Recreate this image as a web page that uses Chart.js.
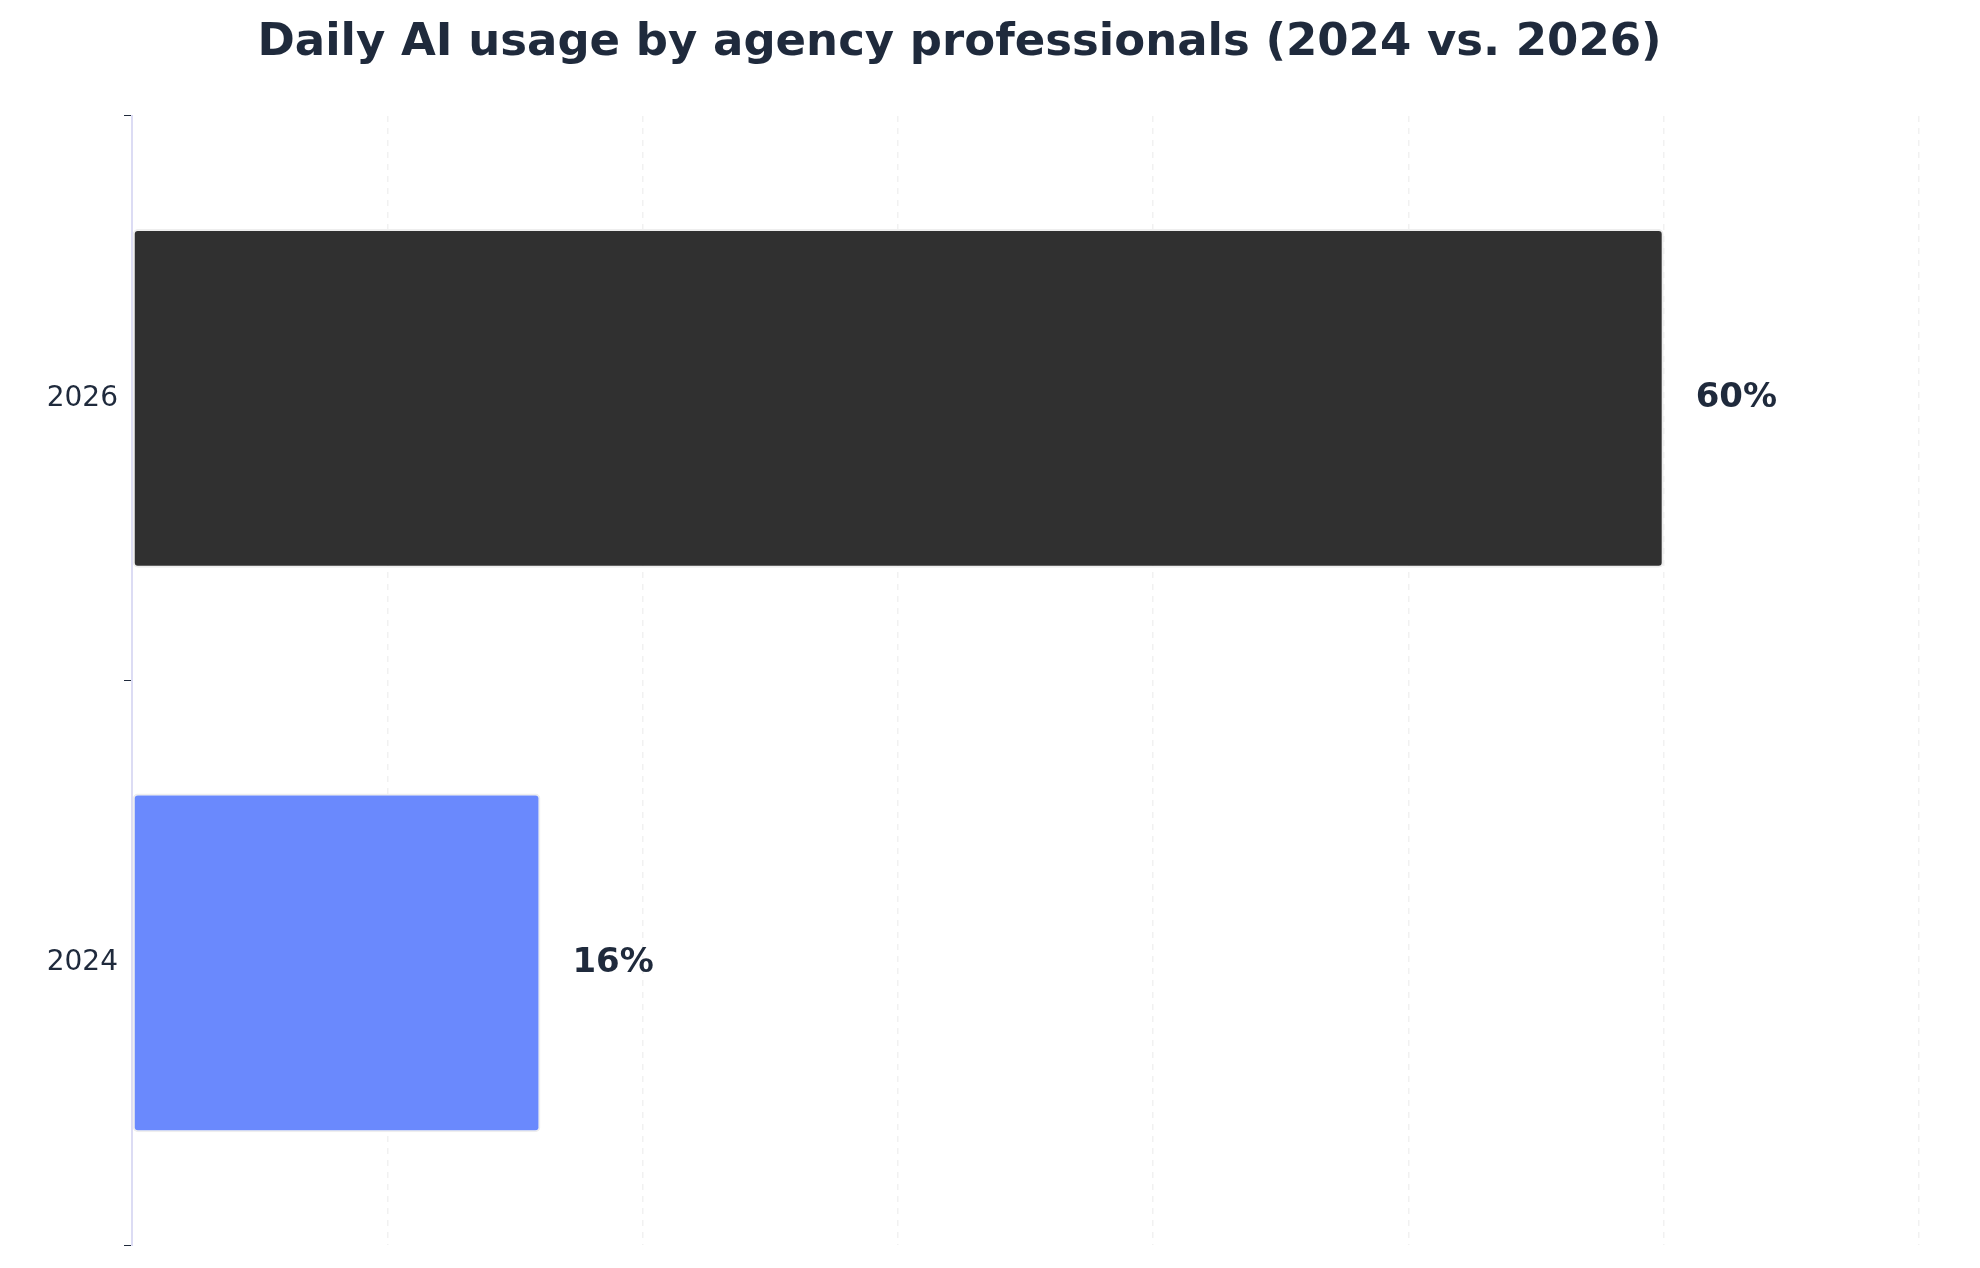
<!DOCTYPE html>
<html><head><meta charset="utf-8">
<script src="https://cdn.jsdelivr.net/npm/chart.js@4.4.1/dist/chart.umd.min.js"></script>
<style>html,body{margin:0;padding:0;background:#fff}#wrap{width:1980px;height:1268px}</style>
</head><body><div id="wrap"><canvas id="c"></canvas></div>
<script>
const categories = ['2026', '2024'];
const values = [60, 16];
const barColors = ['#303030', '#6a89fd'];
const valueLabels = ['60%', '16%'];
const titleText = 'Daily AI usage by agency professionals (2024 vs. 2026)';

const labelPlugin = {
  id: 'lbl',
  afterDatasetsDraw(chart) {
    const ctx = chart.ctx;
    const meta = chart.getDatasetMeta(0);
    ctx.save();
    ctx.font = 'bold 34px "DejaVu Sans"';
    ctx.fillStyle = '#1f2a3c';
    ctx.textBaseline = 'middle';
    meta.data.forEach((b, i) => ctx.fillText(valueLabels[i], b.x + 32, b.y));
    ctx.restore();
  }
};

new Chart(document.getElementById('c'), {
  type: 'bar',
  data: { labels: categories, datasets: [{ data: values, backgroundColor: barColors,
    borderColor: '#eeeeee', borderWidth: 2, borderRadius: 5, borderSkipped: false,
    categoryPercentage: 1, barPercentage: 0.6 }] },
  options: {
    indexAxis: 'y', responsive: true, maintainAspectRatio: false, animation: false,
    layout: { padding: { left: 0, right: 61, top: 0, bottom: 10 } },
    plugins: {
      legend: { display: false }, tooltip: { enabled: false },
      title: { display: true, text: titleText, color: '#1f2a3c',
        font: { family: 'DejaVu Sans', size: 45, weight: 'bold' }, padding: { top: 16, bottom: 46 } }
    },
    scales: {
      x: { min: 0, max: 70, z: 1,
        ticks: { display: false, stepSize: 10 },
        border: { display: false },
        grid: { color: 'rgba(190,190,190,0.22)', lineWidth: 1.5, drawTicks: false, tickBorderDash: [], },
        afterFit: s => { s.height = 0; }
      },
      y: {
        afterFit: s => { s.width = 132; },
        ticks: { color: '#1f2a3c', font: { family: 'DejaVu Sans', size: 28 }, padding: 6 },
        grid: { display: true, drawOnChartArea: false, color: '#1f2a3c', tickLength: 8 },
        border: { display: true, color: '#dcdcf4', width: 2 }
      }
    }
  },
  plugins: [labelPlugin, {
    id: 'dash',
    beforeInit(chart) { chart.options.scales.x.border.dash = [6, 6]; chart.options.scales.x.grid.borderDash = [6,6]; }
  }]
});
</script></body></html>
